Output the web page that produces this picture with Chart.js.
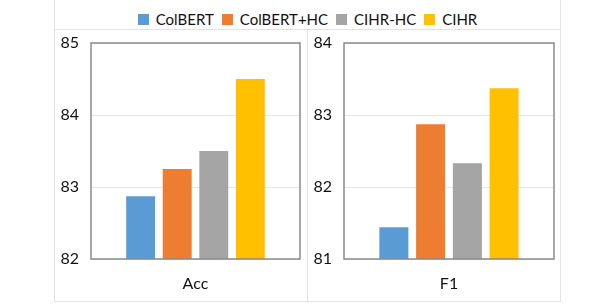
<!DOCTYPE html>
<html lang="en">
<head>
    <meta charset="UTF-8">
    <title>Acc / F1</title>
    <script src="https://cdn.jsdelivr.net/npm/chart.js"></script>
    <style>
        body { margin: 0; background: #fff; font-family: Lato, "Liberation Sans", sans-serif; }
        #wrap { position: relative; width: 614px; height: 308px; }
        .box { position: absolute; border: 1px solid #e3e3e3; box-sizing: border-box; }
        #legend { position: absolute; left: 54px; top: 9px; width: 507px; display: flex; justify-content: center;
                  font-size: 15px; line-height: 20px; color: #111; }
        #legend span.item { display: flex; align-items: center; margin: 0 4px; }
        #legend i { display: inline-block; width: 11px; height: 11px; margin-right: 7px; }
        canvas { position: absolute; }
    </style>
</head>
<body>
<div id="wrap">
    <div class="box" style="left:54px; top:-1px; width:507px; height:31px;"></div>
    <div class="box" style="left:54px; top:29px; width:254px; height:273px;"></div>
    <div class="box" style="left:307px; top:29px; width:254px; height:273px;"></div>
    <div id="legend"></div>
    <canvas id="accChart" width="252" height="271" style="left:54px; top:30px;"></canvas>
    <canvas id="f1Chart" width="254" height="271" style="left:307px; top:30px;"></canvas>
</div>

<script>
    // Data
    const methods = ['ColBERT', 'ColBERT+HC', 'CIHR-HC', 'CIHR'];
    const colors = ['#5B9BD5', '#ED7D31', '#A5A5A5', '#FFC000'];
    const accValues = [82.87, 83.25, 83.5, 84.5];
    const f1Values = [81.44, 82.87, 82.33, 83.37];
    const accTicks = [82, 83, 84, 85];
    const f1Ticks = [81, 82, 83, 84];

    // legend (shared, above both panels)
    const legend = document.getElementById('legend');
    methods.forEach((m, i) => {
        const item = document.createElement('span');
        item.className = 'item';
        item.innerHTML = `<i style="background:${colors[i]}"></i>${m}`;
        legend.appendChild(item);
    });

    // frame around the plot area
    const frame = {
        id: 'frame',
        afterDatasetsDraw(chart) {
            const a = chart.chartArea;
            const ctx = chart.ctx;
            ctx.save();
            ctx.strokeStyle = '#8a8a8a';
            ctx.lineWidth = 1.5;
            ctx.strokeRect(a.left, a.top, a.right - a.left, a.bottom - a.top);
            ctx.restore();
        }
    };

    function makeChart(id, label, values, ticks, rightPad) {
        new Chart(document.getElementById(id), {
            type: 'bar',
            data: {
                labels: [label],
                datasets: methods.map((m, i) => ({
                    label: m,
                    data: [values[i]],
                    backgroundColor: colors[i],
                    categoryPercentage: 0.7,
                    barPercentage: 0.79
                }))
            },
            options: {
                responsive: false,
                animation: false,
                layout: { padding: { left: 0, right: rightPad, top: 13, bottom: 0 } },
                plugins: { legend: { display: false }, tooltip: { enabled: false } },
                scales: {
                    x: {
                        grid: { display: false },
                        border: { display: false },
                        ticks: { color: '#111', font: { family: 'Lato', size: 16 }, padding: 7 },
                        afterFit(s) { s.height = 42; s.paddingLeft = 0; s.paddingRight = 0; }
                    },
                    y: {
                        min: ticks[0],
                        max: ticks[ticks.length - 1],
                        afterBuildTicks(s) { s.ticks = ticks.map(v => ({ value: v })); },
                        grid: { color: '#e6e6e6', drawTicks: false },
                        border: { display: false },
                        ticks: { color: '#111', font: { family: 'Lato', size: 16 }, padding: 12 },
                        afterFit(s) { s.width = 37; s.paddingTop = 0; s.paddingBottom = 0; }
                    }
                }
            },
            plugins: [frame]
        });
    }

    makeChart('accChart', 'Acc', accValues, accTicks, 6);
    makeChart('f1Chart', 'F1', f1Values, f1Ticks, 7);
</script>
</body>
</html>
